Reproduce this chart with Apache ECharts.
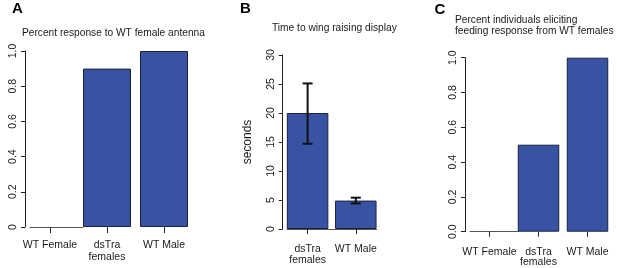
<!DOCTYPE html>
<html><head><meta charset="utf-8">
<script src="https://cdn.jsdelivr.net/npm/echarts@6/dist/echarts.min.js"></script>
<style>html,body{margin:0;padding:0;background:#fff}#c{width:617px;height:268px}</style>
</head><body><div id="c"></div>
<script>
// ---- data ----
const catsA = ['WT Female', 'dsTra\nfemales', 'WT Male'];
const valsA = [0, 0.9, 1.0];
const yLabelsA = ['0', '0.2', '0.4', '0.6', '0.8', '1.0'];

const catsB = ['dsTra\nfemales', 'WT Male'];
const valsB = [20, 4.9];
const errLowB = [14.7, 4.4];
const errHighB = [25.1, 5.4];
const yLabelsB = ['0', '5', '10', '15', '20', '25', '30'];

const catsC = ['WT Female', 'dsTra\nfemales', 'WT Male'];
const valsC = [0, 0.5, 1.0];
const yLabelsC = ['0.0', '0.2', '0.4', '0.6', '0.8', '1.0'];

const titleA = 'Percent response to WT female antenna';
const titleB = 'Time to wing raising display';
const titleC = 'Percent individuals eliciting\nfeeding response from WT females';
const yNameB = 'seconds';

// ---- style ----
const FONT = "'Liberation Sans', Arial, Helvetica, sans-serif";
const TXT = '#1a1a1a';
const AX = '#222';
const FILL = '#3953a3';
const EDGE = '#1b2040';

const chart = echarts.init(document.getElementById('c'), null, {renderer: 'canvas'});

function barData(vals) {
  return vals.map(v => v === 0 ? {value: v, itemStyle: {borderWidth: 0}} : v);
}
function yAxisCfg(grid, max, interval, labels, offset, extra) {
  return Object.assign({
    gridIndex: grid, type: 'value', min: 0, max: max, interval: interval, offset: offset,
    axisLine: {show: true, lineStyle: {color: AX, width: 1}},
    axisTick: {show: true, length: 4, lineStyle: {color: AX, width: 1}},
    splitLine: {show: false},
    axisLabel: {rotate: 90, margin: 6, color: TXT, fontFamily: FONT, fontSize: 10.5,
      formatter: (v, i) => labels[i]}
  }, extra || {});
}
function xAxisCfg(grid, cats, tickLen, margin, lh) {
  return {
    gridIndex: grid, type: 'category', data: cats,
    axisLine: {show: false},
    axisTick: {show: true, alignWithLabel: true, length: tickLen, lineStyle: {color: AX, width: 1}},
    axisLabel: {margin: margin, lineHeight: lh, color: TXT, fontFamily: FONT, fontSize: 10.5, interval: 0}
  };
}
function lineAxis(grid) {
  return {gridIndex: grid, type: 'value', min: 0, max: 1, position: 'bottom',
    axisLine: {show: true, lineStyle: {color: '#555', width: 1}},
    axisTick: {show: false}, axisLabel: {show: false}, splitLine: {show: false}};
}
function hiddenY(grid) {
  return {gridIndex: grid, type: 'value', min: 0, max: 1, show: false};
}
const barStyle = {color: FILL, borderColor: EDGE, borderWidth: 1};
const tStyle = {color: TXT, fontFamily: FONT, fontSize: 10.2, fontWeight: 'normal'};
const letterStyle = {color: '#000', fontFamily: FONT, fontSize: 15, fontWeight: 'bold'};

chart.setOption({
  animation: false,
  backgroundColor: '#fff',
  title: [
    {text: 'A', left: 12, top: 1, padding: 0, textStyle: letterStyle},
    {text: 'B', left: 240, top: 1, padding: 0, textStyle: letterStyle},
    {text: 'C', left: 434.5, top: 2.5, padding: 0, textStyle: letterStyle},
    {text: titleA, left: 22, top: 27, padding: 0, textStyle: Object.assign({lineHeight: 12}, tStyle)},
    {text: titleB, left: 272, top: 22, padding: 0, textStyle: Object.assign({lineHeight: 12}, tStyle)},
    {text: titleC, left: 455, top: 14, padding: 0, textStyle: Object.assign({lineHeight: 11.7}, tStyle)}
  ],
  grid: [
    {left: 21.5, top: 51, width: 171, height: 176},
    {left: 283.5, top: 55, width: 96.4, height: 174},
    {left: 465, top: 57.7, width: 147, height: 174},
    {left: 30, top: 226, width: 53, height: 1},
    {left: 287, top: 228, width: 89.7, height: 1},
    {left: 470, top: 230.7, width: 48, height: 1}
  ],
  xAxis: [
    xAxisCfg(0, catsA, 6, 12, 12),
    xAxisCfg(1, catsB, 5, 15, 10.5),
    xAxisCfg(2, catsC, 5, 15, 10.5),
    lineAxis(3), lineAxis(4), lineAxis(5)
  ],
  yAxis: [
    yAxisCfg(0, 1, 0.2, yLabelsA, -3.5),
    yAxisCfg(1, 30, 5, yLabelsB, 0.8, {name: yNameB, nameLocation: 'middle', nameGap: 29, nameRotate: 90,
      nameTextStyle: {color: TXT, fontFamily: FONT, fontSize: 12}}),
    yAxisCfg(2, 1, 0.2, yLabelsC, 0),
    hiddenY(3), hiddenY(4), hiddenY(5)
  ],
  series: [
    {type: 'bar', xAxisIndex: 0, yAxisIndex: 0, barWidth: 48, data: barData(valsA), itemStyle: barStyle},
    {type: 'bar', xAxisIndex: 1, yAxisIndex: 1, barWidth: 41.5, data: barData(valsB), itemStyle: barStyle},
    {type: 'bar', xAxisIndex: 2, yAxisIndex: 2, barWidth: 41.5, data: barData(valsC), itemStyle: barStyle},
    {
      type: 'custom', xAxisIndex: 1, yAxisIndex: 1, z: 5,
      data: catsB.map((c, i) => [i, errLowB[i], errHighB[i]]),
      encode: {x: 0, y: [1, 2]},
      renderItem: function (params, api) {
        const x = api.value(0);
        const lo = api.coord([x, api.value(1)]);
        const hi = api.coord([x, api.value(2)]);
        const w = 5;
        const st = {stroke: '#111', lineWidth: 2};
        return {type: 'group', children: [
          {type: 'line', shape: {x1: lo[0], y1: lo[1], x2: hi[0], y2: hi[1]}, style: st},
          {type: 'line', shape: {x1: lo[0] - w, y1: lo[1], x2: lo[0] + w, y2: lo[1]}, style: st},
          {type: 'line', shape: {x1: hi[0] - w, y1: hi[1], x2: hi[0] + w, y2: hi[1]}, style: st}
        ]};
      }
    }
  ]
});
</script>
</body></html>
